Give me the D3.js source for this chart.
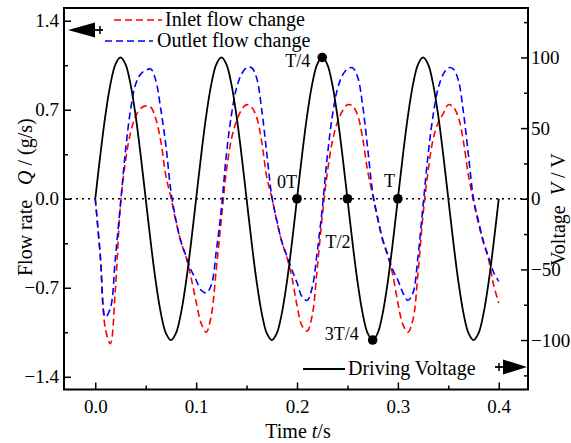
<!DOCTYPE html>
<html>
<head>
<meta charset="utf-8">
<script src="https://cdn.jsdelivr.net/npm/d3@7/dist/d3.min.js"></script>
<style>
  html, body { margin: 0; padding: 0; background: #fff; }
  svg { display: block; }
  text { font-family: "Liberation Serif", "Times New Roman", serif; fill: #000; }
</style>
</head>
<body>
<svg id="chart" width="571" height="443"></svg>
<script>
// ---------------- data ----------------
const time = [
  0.000,0.005,0.010,0.015,0.020,0.025,0.030,0.035,0.040,0.045,
  0.050,0.055,0.060,0.065,0.070,0.075,0.080,0.085,0.090,0.095,
  0.100,0.105,0.110,0.115,0.120,0.125,0.130,0.135,0.140,0.145,
  0.150,0.155,0.160,0.165,0.170,0.175,0.180,0.185,0.190,0.195,
  0.200,0.205,0.210,0.215,0.220,0.225,0.230,0.235,0.240,0.245,
  0.250,0.255,0.260,0.265,0.270,0.275,0.280,0.285,0.290,0.295,
  0.300,0.305,0.310,0.315,0.320,0.325,0.330,0.335,0.340,0.345,
  0.350,0.355,0.360,0.365,0.370,0.375,0.380,0.385,0.390,0.395,
  0.400
];
const inletFlow = [
   0.00,-0.45,-1.02,-1.14,-0.70,-0.05, 0.30, 0.52, 0.65, 0.71,
   0.73, 0.72, 0.63, 0.45, 0.18, 0.01,-0.18,-0.34,-0.46,-0.62,
  -0.81,-0.98,-1.05,-0.92,-0.55,-0.16, 0.22, 0.47, 0.61, 0.70,
   0.74, 0.72, 0.64, 0.45, 0.17, 0.01,-0.18,-0.34,-0.46,-0.62,
  -0.84,-1.00,-1.04,-0.92,-0.55,-0.14, 0.20, 0.45, 0.60, 0.69,
   0.74, 0.73, 0.66, 0.48, 0.22, 0.03,-0.16,-0.33,-0.45,-0.60,
  -0.82,-0.99,-1.05,-0.95,-0.58,-0.12, 0.22, 0.47, 0.60, 0.67,
   0.74, 0.72, 0.64, 0.45, 0.18,-0.02,-0.20,-0.35,-0.48,-0.68,
  -0.82
];
const outletFlow = [
   0.00,-0.45,-0.93,-0.86,-0.46,-0.04, 0.38, 0.70, 0.90, 0.98,
   1.01, 1.02, 0.93, 0.70, 0.42, 0.06,-0.17,-0.34,-0.45,-0.56,
  -0.64,-0.72,-0.74,-0.68,-0.41,-0.08, 0.35, 0.66, 0.87, 0.98,
   1.03, 1.03, 0.95, 0.70, 0.36, 0.02,-0.17,-0.34,-0.45,-0.56,
  -0.66,-0.77,-0.80,-0.70,-0.42,-0.08, 0.33, 0.65, 0.86, 0.97,
   1.02, 1.03, 0.96, 0.74, 0.40, 0.05,-0.15,-0.32,-0.44,-0.56,
  -0.64,-0.74,-0.80,-0.74,-0.45,-0.05, 0.35, 0.66, 0.87, 0.98,
   1.03, 1.02, 0.93, 0.68, 0.34, 0.00,-0.18,-0.34,-0.46,-0.58,
  -0.65
];
const voltage = [
    0, 30.9, 58.8, 80.9, 95.1, 100, 95.1, 80.9, 58.8, 30.9,
    0,-30.9,-58.8,-80.9,-95.1,-100,-95.1,-80.9,-58.8,-30.9,
    0, 30.9, 58.8, 80.9, 95.1, 100, 95.1, 80.9, 58.8, 30.9,
    0,-30.9,-58.8,-80.9,-95.1,-100,-95.1,-80.9,-58.8,-30.9,
    0, 30.9, 58.8, 80.9, 95.1, 100, 95.1, 80.9, 58.8, 30.9,
    0,-30.9,-58.8,-80.9,-95.1,-100,-95.1,-80.9,-58.8,-30.9,
    0, 30.9, 58.8, 80.9, 95.1, 100, 95.1, 80.9, 58.8, 30.9,
    0,-30.9,-58.8,-80.9,-95.1,-100,-95.1,-80.9,-58.8,-30.9,
    0
];
// marked phase points on the voltage curve
const markerLabels = ["0T", "T/4", "T/2", "3T/4", "T"];
const markerTimes  = [0.200, 0.225, 0.250, 0.275, 0.300];
const markerVolts  = [0, 100, 0, -100, 0];

const xTicks = [0.0, 0.1, 0.2, 0.3, 0.4];
const xMinorTicks = [0.05, 0.15, 0.25, 0.35];
const yLeftTicks = [-1.4, -0.7, 0.0, 0.7, 1.4];
const yLeftMinorTicks = [-1.05, -0.35, 0.35, 1.05];
const yRightTicks = [-100, -50, 0, 50, 100];
const yRightMinorTicks = [-125, -75, -25, 25, 75, 125];

const seriesNames = ["Inlet flow change", "Outlet flow change", "Driving Voltage"];
const seriesColors = ["#ff0000", "#0000ff", "#000000"];

// ---------------- layout ----------------
const L = 64, R = 528, T = 8, B = 389.5;
const svg = d3.select("#chart");

const x = d3.scaleLinear().domain([-0.031, 0.429]).range([L, R]);
const yL = d3.scaleLinear().domain([-1.5, 1.5]).range([B, T]);
const yR = d3.scaleLinear().domain([-135, 135]).range([B, T]);

const FS_TICK = 19, FS_TXT = 20, FS_MK = 18;

function styleAxis(g) {
  g.select(".domain").remove();
  g.selectAll(".tick line").attr("stroke", "#000").attr("stroke-width", 1.5);
  g.selectAll(".tick text").style("font-family", "Liberation Serif").style("font-size", FS_TICK + "px").attr("fill", "#000");
}

// left axis
svg.append("g").attr("transform", `translate(${L},0)`)
  .call(d3.axisLeft(yL).tickValues(yLeftTicks).tickSize(-7).tickPadding(5).tickFormat(d3.format(".1f")))
  .call(styleAxis);
svg.append("g").attr("transform", `translate(${L},0)`)
  .call(d3.axisLeft(yL).tickValues(yLeftMinorTicks).tickSize(-4).tickFormat(""))
  .call(styleAxis);
// right axis
svg.append("g").attr("transform", `translate(${R},0)`)
  .call(d3.axisRight(yR).tickValues(yRightTicks).tickSize(-7).tickPadding(3).tickFormat(d3.format("d")))
  .call(styleAxis);
svg.append("g").attr("transform", `translate(${R},0)`)
  .call(d3.axisRight(yR).tickValues(yRightMinorTicks).tickSize(-4).tickFormat(""))
  .call(styleAxis);
// bottom axis
svg.append("g").attr("transform", `translate(0,${B})`)
  .call(d3.axisBottom(x).tickValues(xTicks).tickSize(-7).tickPadding(10).tickFormat(d3.format(".1f")))
  .call(styleAxis);
svg.append("g").attr("transform", `translate(0,${B})`)
  .call(d3.axisBottom(x).tickValues(xMinorTicks).tickSize(-4).tickFormat(""))
  .call(styleAxis);

// zero dotted line
svg.append("line")
  .attr("x1", L).attr("x2", R).attr("y1", yL(0)).attr("y2", yL(0))
  .attr("stroke", "#000").attr("stroke-width", 1.5).attr("stroke-dasharray", "2,4");

// clip
svg.append("clipPath").attr("id", "clip").append("rect")
  .attr("x", L).attr("y", T).attr("width", R - L).attr("height", B - T);

const plot = svg.append("g").attr("clip-path", "url(#clip)");

const lineL = d3.line().x((d, i) => x(time[i])).y(d => yL(d)).curve(d3.curveCatmullRom.alpha(0.5));
const lineR = d3.line().x((d, i) => x(time[i])).y(d => yR(d)).curve(d3.curveCatmullRom.alpha(0.5));

plot.append("path").datum(inletFlow).attr("d", lineL)
  .attr("fill", "none").attr("stroke", seriesColors[0]).attr("stroke-width", 1.6).attr("stroke-dasharray", "7,4");
plot.append("path").datum(outletFlow).attr("d", lineL)
  .attr("fill", "none").attr("stroke", seriesColors[1]).attr("stroke-width", 1.6).attr("stroke-dasharray", "7,4");
plot.append("path").datum(voltage).attr("d", lineR)
  .attr("fill", "none").attr("stroke", seriesColors[2]).attr("stroke-width", 1.8);

// markers
plot.selectAll("circle.mk").data(markerTimes).enter().append("circle")
  .attr("class", "mk")
  .attr("cx", d => x(d)).attr("cy", (d, i) => yR(markerVolts[i])).attr("r", 4.8).attr("fill", "#000");

const labelDx = [-20, -37, -22, -48, -14];
const labelDy = [-11, 10, 49, 0, -12];
svg.selectAll("text.mkl").data(markerLabels).enter().append("text")
  .attr("class", "mkl")
  .attr("x", (d, i) => x(markerTimes[i]) + labelDx[i])
  .attr("y", (d, i) => yR(markerVolts[i]) + labelDy[i])
  .style("font-size", FS_MK + "px")
  .text(d => d);

// frame
svg.append("rect").attr("x", L).attr("y", T).attr("width", R - L).attr("height", B - T)
  .attr("fill", "none").attr("stroke", "#000").attr("stroke-width", 2);

// legend (top-left)
svg.append("path").attr("d", "M68,30 L95,22.5 L95,37.5 Z").attr("fill", "#000");
svg.append("line").attr("x1", 95).attr("x2", 103).attr("y1", 30).attr("y2", 30).attr("stroke", "#000").attr("stroke-width", 1.8);
svg.append("line").attr("x1", 100).attr("x2", 100).attr("y1", 26).attr("y2", 34).attr("stroke", "#000").attr("stroke-width", 1.5);

svg.append("line").attr("x1", 114).attr("x2", 162).attr("y1", 20).attr("y2", 20)
  .attr("stroke", seriesColors[0]).attr("stroke-width", 1.6).attr("stroke-dasharray", "7,4");
svg.append("text").attr("x", 165).attr("y", 26).style("font-size", FS_TXT + "px").text(seriesNames[0]);
svg.append("line").attr("x1", 105).attr("x2", 153).attr("y1", 41).attr("y2", 41)
  .attr("stroke", seriesColors[1]).attr("stroke-width", 1.6).attr("stroke-dasharray", "7,4");
svg.append("text").attr("x", 157).attr("y", 47).style("font-size", FS_TXT + "px").text(seriesNames[1]);

// legend (bottom-right)
svg.append("line").attr("x1", 303).attr("x2", 345).attr("y1", 369).attr("y2", 369).attr("stroke", "#000").attr("stroke-width", 1.8);
svg.append("text").attr("x", 348).attr("y", 375).style("font-size", FS_TXT + "px").text(seriesNames[2]);
svg.append("line").attr("x1", 495).attr("x2", 504).attr("y1", 367).attr("y2", 367).attr("stroke", "#000").attr("stroke-width", 1.8);
svg.append("line").attr("x1", 499).attr("x2", 499).attr("y1", 363).attr("y2", 371).attr("stroke", "#000").attr("stroke-width", 1.5);
svg.append("path").attr("d", "M503,359.5 L527,367 L503,374.5 Z").attr("fill", "#000");

// axis titles (both read bottom-to-top)
const lt = svg.append("text").attr("transform", `translate(32,276) rotate(-90)`)
  .attr("text-anchor", "start").style("font-size", FS_TXT + "px");
lt.append("tspan").text("Flow rate");
lt.append("tspan").attr("dx", 15).style("font-style", "italic").text("Q");
lt.append("tspan").text(" / (g/s)");

const rt = svg.append("text").attr("transform", `translate(565,266) rotate(-90)`)
  .attr("text-anchor", "start").style("font-size", FS_TXT + "px");
rt.append("tspan").text("Voltage");
rt.append("tspan").attr("dx", 10).style("font-style", "italic").text("V");
rt.append("tspan").text(" / V");

const bt = svg.append("text").attr("x", 298).attr("y", 438)
  .attr("text-anchor", "middle").style("font-size", FS_TXT + "px");
bt.append("tspan").text("Time  ");
bt.append("tspan").style("font-style", "italic").text("t");
bt.append("tspan").text("/s");
</script>
</body>
</html>
